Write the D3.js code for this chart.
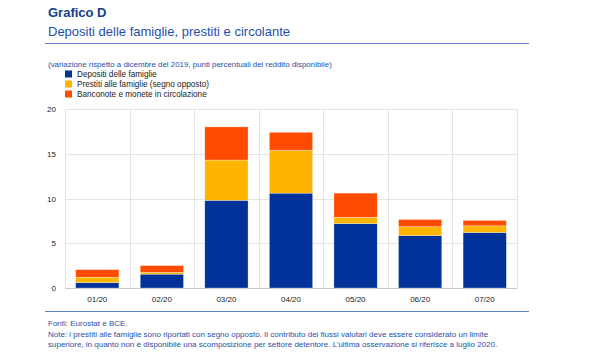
<!DOCTYPE html>
<html>
<head>
<meta charset="utf-8">
<script src="https://cdn.jsdelivr.net/npm/d3@7"></script>
<style>
  html, body { margin: 0; padding: 0; background: #fff; }
  svg { display: block; font-family: 'Liberation Sans', Arial, sans-serif; }
</style>
</head>
<body>
<div id="chart"></div>
<script>
(function () {
  'use strict';

  // --- data ---
  const MONTHS   = ['01/20', '02/20', '03/20', '04/20', '05/20', '06/20', '07/20'];
  const SERIES   = ['Depositi delle famiglie', 'Prestiti alle famiglie (segno opposto)', 'Banconote e monete in circolazione'];
  const DEPOSITI = [0.6, 1.55, 9.8, 10.6, 7.2, 5.85, 6.2];
  const PRESTITI = [0.6, 0.2, 4.5, 4.8, 0.7, 1.0, 0.75];
  const BANCONOTE = [0.85, 0.75, 3.7, 2.0, 2.7, 0.8, 0.6];
  const Y_TICKS  = [0, 5, 10, 15, 20];

  const COLORS = ['#003299', '#FFB400', '#FF4B00'];
  const BLUE_TEXT = '#1f4fa8';

  const W = 600, H = 354;
  const M = { left: 65, right: 83, top: 109, bottom: 66 };
  const iw = W - M.left - M.right;
  const ih = H - M.top - M.bottom;

  const svg = d3.select('#chart').append('svg')
    .attr('width', W).attr('height', H);

  // Header
  svg.append('text')
    .attr('x', 48).attr('y', 17)
    .attr('fill', '#163e8c').attr('font-size', 13).attr('font-weight', 'bold')
    .text('Grafico D');
  svg.append('text')
    .attr('x', 48).attr('y', 36)
    .attr('fill', BLUE_TEXT).attr('font-size', 13)
    .text('Depositi delle famiglie, prestiti e circolante');
  svg.append('line')
    .attr('x1', 45).attr('x2', 529).attr('y1', 43.5).attr('y2', 43.5)
    .attr('stroke', '#5a7fc4').attr('stroke-width', 1.2);
  svg.append('text')
    .attr('x', 48).attr('y', 67)
    .attr('fill', BLUE_TEXT).attr('font-size', 7.9)
    .text('(variazione rispetto a dicembre del 2019, punti percentuali del reddito disponibile)');

  // Legend
  const legend = svg.append('g');
  SERIES.forEach((s, i) => {
    const y = 74 + i * 10;
    legend.append('rect')
      .attr('x', 65).attr('y', y - 3.5).attr('width', 7).attr('height', 7)
      .attr('fill', COLORS[i]);
    legend.append('text')
      .attr('x', 77).attr('y', y + 3)
      .attr('font-size', 8.2).attr('fill', '#222')
      .text(s);
  });

  const g = svg.append('g').attr('transform', `translate(${M.left},${M.top})`);

  const x = d3.scaleBand().domain(MONTHS).range([0, iw]).paddingInner(0.33).paddingOuter(0.165);
  const xb = d3.scaleBand().domain(MONTHS).range([0, iw]);
  const y = d3.scaleLinear().domain([0, 20]).range([ih, 0]);

  // Grid
  g.selectAll('line.hgrid').data(Y_TICKS).join('line')
    .attr('class', 'hgrid')
    .attr('x1', 0).attr('x2', iw)
    .attr('y1', d => Math.round(y(d)) + 0.5).attr('y2', d => Math.round(y(d)) + 0.5)
    .attr('stroke', d => d === 0 ? '#c8c8c8' : '#e4e4e4').attr('stroke-width', 1);
  const vx = MONTHS.map(m => xb(m)).concat([iw]);
  g.selectAll('line.vgrid').data(vx).join('line')
    .attr('class', 'vgrid')
    .attr('x1', d => Math.round(d) + 0.5).attr('x2', d => Math.round(d) + 0.5)
    .attr('y1', 0).attr('y2', ih)
    .attr('stroke', '#e4e4e4').attr('stroke-width', 1);

  // Stacked bars
  const rows = MONTHS.map((m, i) => ({ month: m, a: DEPOSITI[i], b: PRESTITI[i], c: BANCONOTE[i] }));
  const stack = d3.stack().keys(['a', 'b', 'c'])(rows);

  g.selectAll('g.layer').data(stack).join('g')
    .attr('class', 'layer')
    .attr('fill', (d, i) => COLORS[i])
    .selectAll('rect').data(d => d).join('rect')
      .attr('x', d => x(d.data.month))
      .attr('width', x.bandwidth())
      .attr('y', d => y(d[1]))
      .attr('height', d => y(d[0]) - y(d[1]))
      .attr('stroke', 'rgba(255,255,255,0.6)')
      .attr('stroke-width', 0.5);

  // Axes labels
  g.selectAll('text.ytick').data(Y_TICKS).join('text')
    .attr('class', 'ytick')
    .attr('x', -9).attr('y', d => y(d) + 3)
    .attr('text-anchor', 'end')
    .attr('font-size', 8).attr('fill', '#222')
    .text(d => d);

  g.selectAll('text.xtick').data(MONTHS).join('text')
    .attr('class', 'xtick')
    .attr('x', d => xb(d) + xb.bandwidth() / 2).attr('y', ih + 14)
    .attr('text-anchor', 'middle')
    .attr('font-size', 8).attr('fill', '#222')
    .text(d => d);

  // Footer
  svg.append('line')
    .attr('x1', 45).attr('x2', 529).attr('y1', 311.5).attr('y2', 311.5)
    .attr('stroke', '#5a7fc4').attr('stroke-width', 1.2);
  const notes = [
    'Fonti: Eurostat e BCE.',
    'Note: i prestiti alle famiglie sono riportati con segno opposto. Il contributo dei flussi valutari deve essere considerato un limite',
    'superiore, in quanto non è disponibile una scomposizione per settore detentore. L\u2019ultima osservazione si riferisce a luglio 2020.'
  ];
  svg.selectAll('text.note').data(notes).join('text')
    .attr('class', 'note')
    .attr('x', 48).attr('y', (d, i) => 326 + i * 10.5)
    .attr('font-size', 8).attr('fill', BLUE_TEXT)
    .text(d => d);
})();
</script>
</body>
</html>
